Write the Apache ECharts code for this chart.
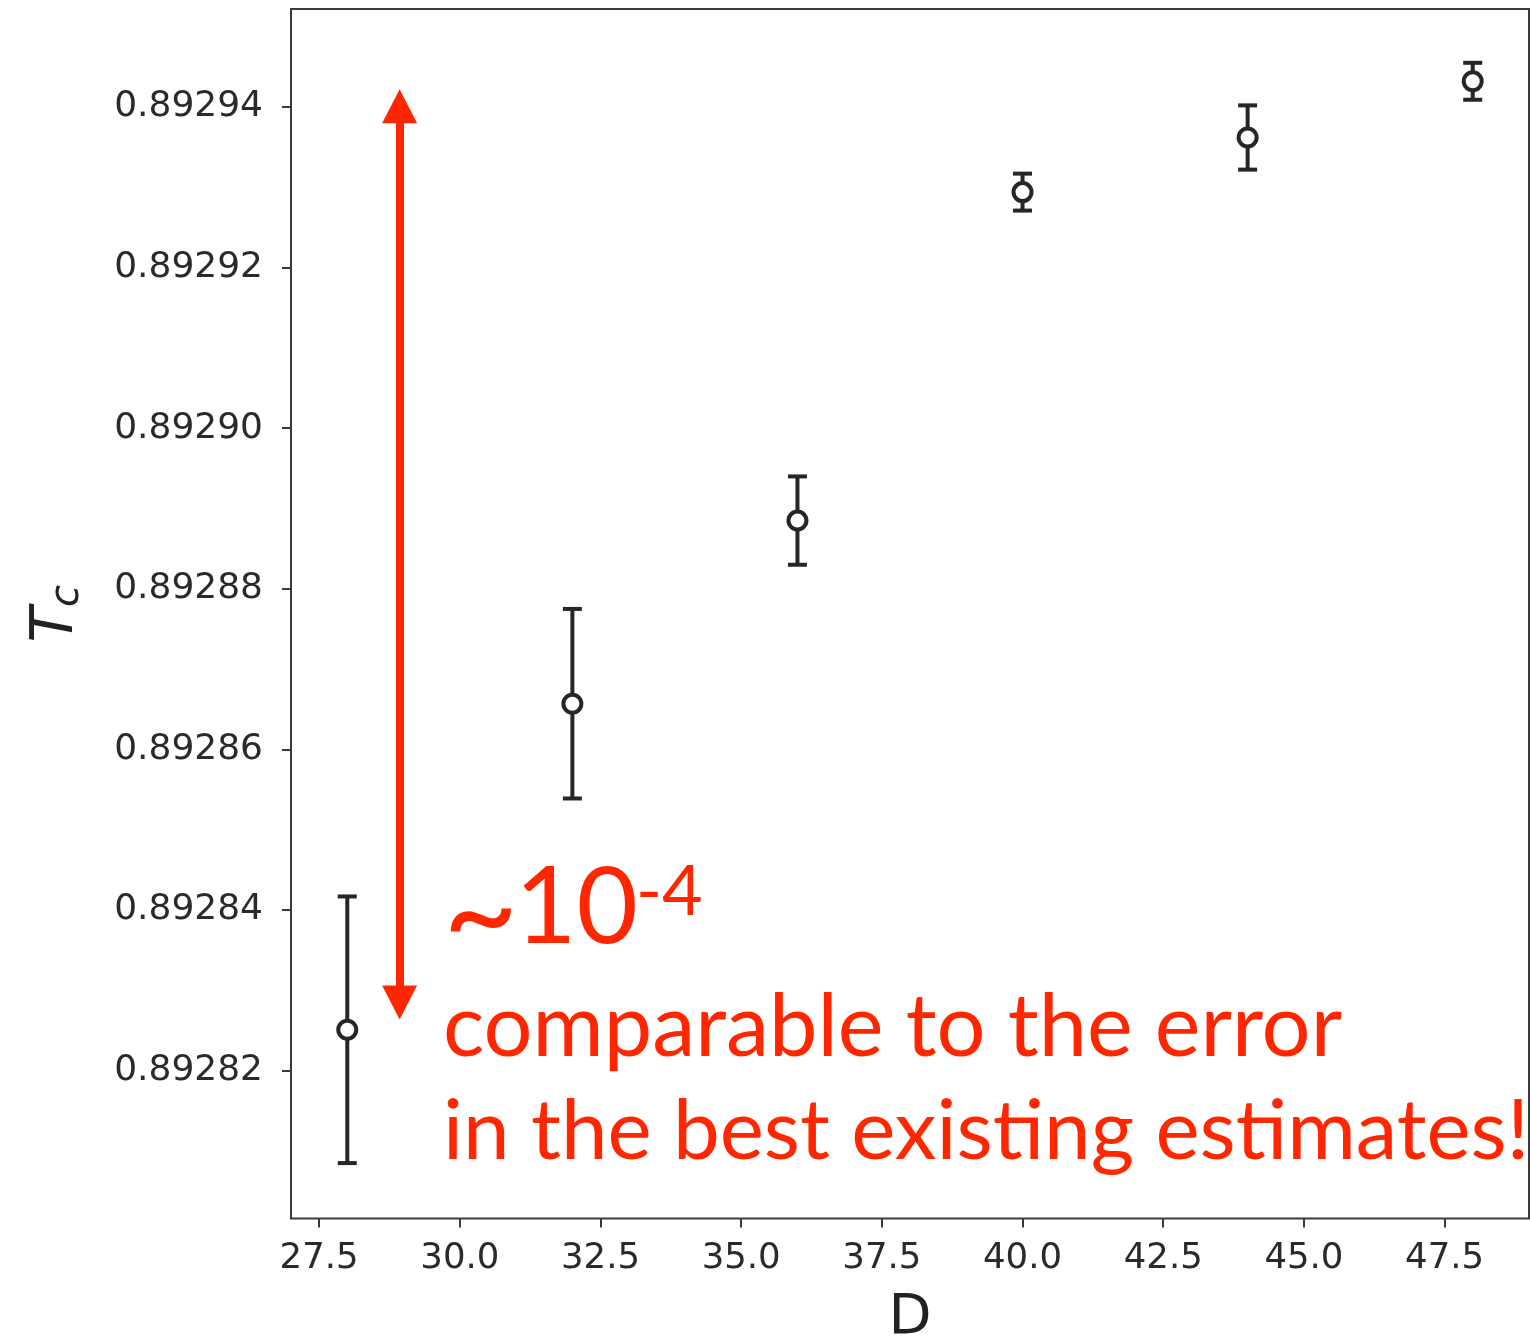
<!DOCTYPE html>
<html>
<head>
<meta charset="utf-8">
<title>Tc vs D</title>
<script src="https://cdn.jsdelivr.net/npm/echarts@6/dist/echarts.min.js"></script>
<style>
  html, body { margin: 0; padding: 0; background: #ffffff; overflow: hidden; }
  #chart { width: 1530px; height: 1343px; }
</style>
</head>
<body>
<div id="chart"></div>
<script>
// Critical temperature estimates vs bond dimension D, with error bars
const dValues  = [28, 32, 36, 40, 44, 48];
const tcValues = [0.8928251, 0.8928657, 0.8928885, 0.8929294, 0.8929362, 0.8929432];
const tcErrors = [0.0000166, 0.0000118, 0.0000055, 0.0000023, 0.0000040, 0.0000023];

// Axis ranges and tick positions
const xRange = [27, 49];
const yRange = [0.8928016, 0.8929522];
const xTicks = [27.5, 30.0, 32.5, 35.0, 37.5, 40.0, 42.5, 45.0, 47.5];
const yTicks = [0.89282, 0.89284, 0.89286, 0.89288, 0.89290, 0.89292, 0.89294];

// Double-headed span arrow (D, Tc) endpoints
const spanArrowD  = [28.93, 28.93];
const spanArrowTc = [0.8929401, 0.8928285];

const RED = '#ff2600';
const INK = '#262626';

const pointData = dValues.map((d, i) => [d, tcValues[i]]);
const errData = dValues.map((d, i) => [d, tcValues[i] - tcErrors[i], tcValues[i] + tcErrors[i]]);

const chart = echarts.init(document.getElementById('chart'), null, { renderer: 'canvas' });

chart.setOption({
  animation: false,
  backgroundColor: '#ffffff',
  grid: {
    left: 291, top: 9, width: 1238, height: 1209.5,
    containLabel: false,
    outerBoundsMode: 'none',
    show: true, borderColor: '#3a3a3a', borderWidth: 2, backgroundColor: 'transparent'
  },
  xAxis: {
    type: 'value',
    min: xRange[0], max: xRange[1],
    name: 'D',
    nameLocation: 'middle',
    nameGap: 72,
    nameTextStyle: { fontFamily: 'DejaVu Sans', fontSize: 56, color: '#222' },
    splitLine: { show: false },
    axisLine: { show: false },
    axisTick: { show: true, inside: false, length: 9, customValues: xTicks,
                lineStyle: { color: '#3a3a3a', width: 2 } },
    axisLabel: {
      customValues: xTicks,
      margin: 22,
      fontFamily: 'DejaVu Sans', fontSize: 35.5, color: '#2a2a2a',
      formatter: v => Number(v).toFixed(1)
    }
  },
  yAxis: {
    type: 'value',
    min: yRange[0], max: yRange[1],
    name: '{t|T}{c|c}',
    nameLocation: 'middle',
    nameRotate: 90,
    nameGap: 203,
    nameTextStyle: {
      rich: {
        t: { fontFamily: 'DejaVu Sans', fontStyle: 'italic', fontSize: 58, color: '#222' },
        c: { fontFamily: 'DejaVu Sans', fontStyle: 'italic', fontSize: 40, color: '#222', padding: [22, 0, 0, 0] }
      }
    },
    splitLine: { show: false },
    axisLine: { show: false },
    axisTick: { show: true, inside: false, length: 9, customValues: yTicks,
                lineStyle: { color: '#3a3a3a', width: 2 } },
    axisLabel: {
      customValues: yTicks,
      margin: 28,
      fontFamily: 'DejaVu Sans', fontSize: 36, color: '#2a2a2a',
      formatter: v => Number(v).toFixed(5)
    }
  },
  series: [
    {
      // vertical error bars with caps
      type: 'custom',
      data: errData,
      z: 2,
      renderItem: function (params, api) {
        const x = api.value(0);
        const top = api.coord([x, api.value(2)]);
        const bot = api.coord([x, api.value(1)]);
        const cap = 9.5;
        const style = { stroke: INK, lineWidth: 4 };
        return {
          type: 'group',
          children: [
            { type: 'line', shape: { x1: top[0], y1: top[1], x2: bot[0], y2: bot[1] }, style },
            { type: 'line', shape: { x1: top[0] - cap, y1: top[1], x2: top[0] + cap, y2: top[1] }, style },
            { type: 'line', shape: { x1: bot[0] - cap, y1: bot[1], x2: bot[0] + cap, y2: bot[1] }, style }
          ]
        };
      }
    },
    {
      // open circle markers
      type: 'scatter',
      data: pointData,
      z: 3,
      symbol: 'circle',
      symbolSize: 18,
      itemStyle: { color: '#ffffff', borderColor: INK, borderWidth: 4, opacity: 1 }
    },
    {
      // red double-headed span arrow
      type: 'line',
      data: [],
      z: 4,
      markLine: {
        silent: true,
        symbol: ['triangle', 'triangle'],
        symbolSize: [35, 34],
        label: { show: false },
        lineStyle: { color: RED, width: 8, type: 'solid' },
        data: [[
          { coord: [spanArrowD[0], spanArrowTc[0]] },
          { coord: [spanArrowD[1], spanArrowTc[1]] }
        ]]
      }
    }
  ],
  graphic: [
    {
      type: 'text', left: 443, top: 851, z: 10,
      style: { text: '~', fontFamily: 'Lato', fontSize: 130, fill: RED }
    },
    {
      type: 'text', left: 515, top: 856, z: 10,
      style: { text: '10', fontFamily: 'Lato', fontSize: 106, fill: RED }
    },
    {
      type: 'text', left: 636, top: 857, z: 10,
      style: { text: '-4', fontFamily: 'Lato', fontSize: 70, fill: RED }
    },
    {
      type: 'text', left: 443, top: 985, z: 10,
      style: { text: 'comparable to the error', fontFamily: 'Lato', fontSize: 86.5, fill: RED }
    },
    {
      type: 'text', left: 443, top: 1090, z: 10,
      style: { text: 'in the best existing estimates!', fontFamily: 'Lato', fontSize: 83.5, fill: RED }
    }
  ]
});
</script>
</body>
</html>
